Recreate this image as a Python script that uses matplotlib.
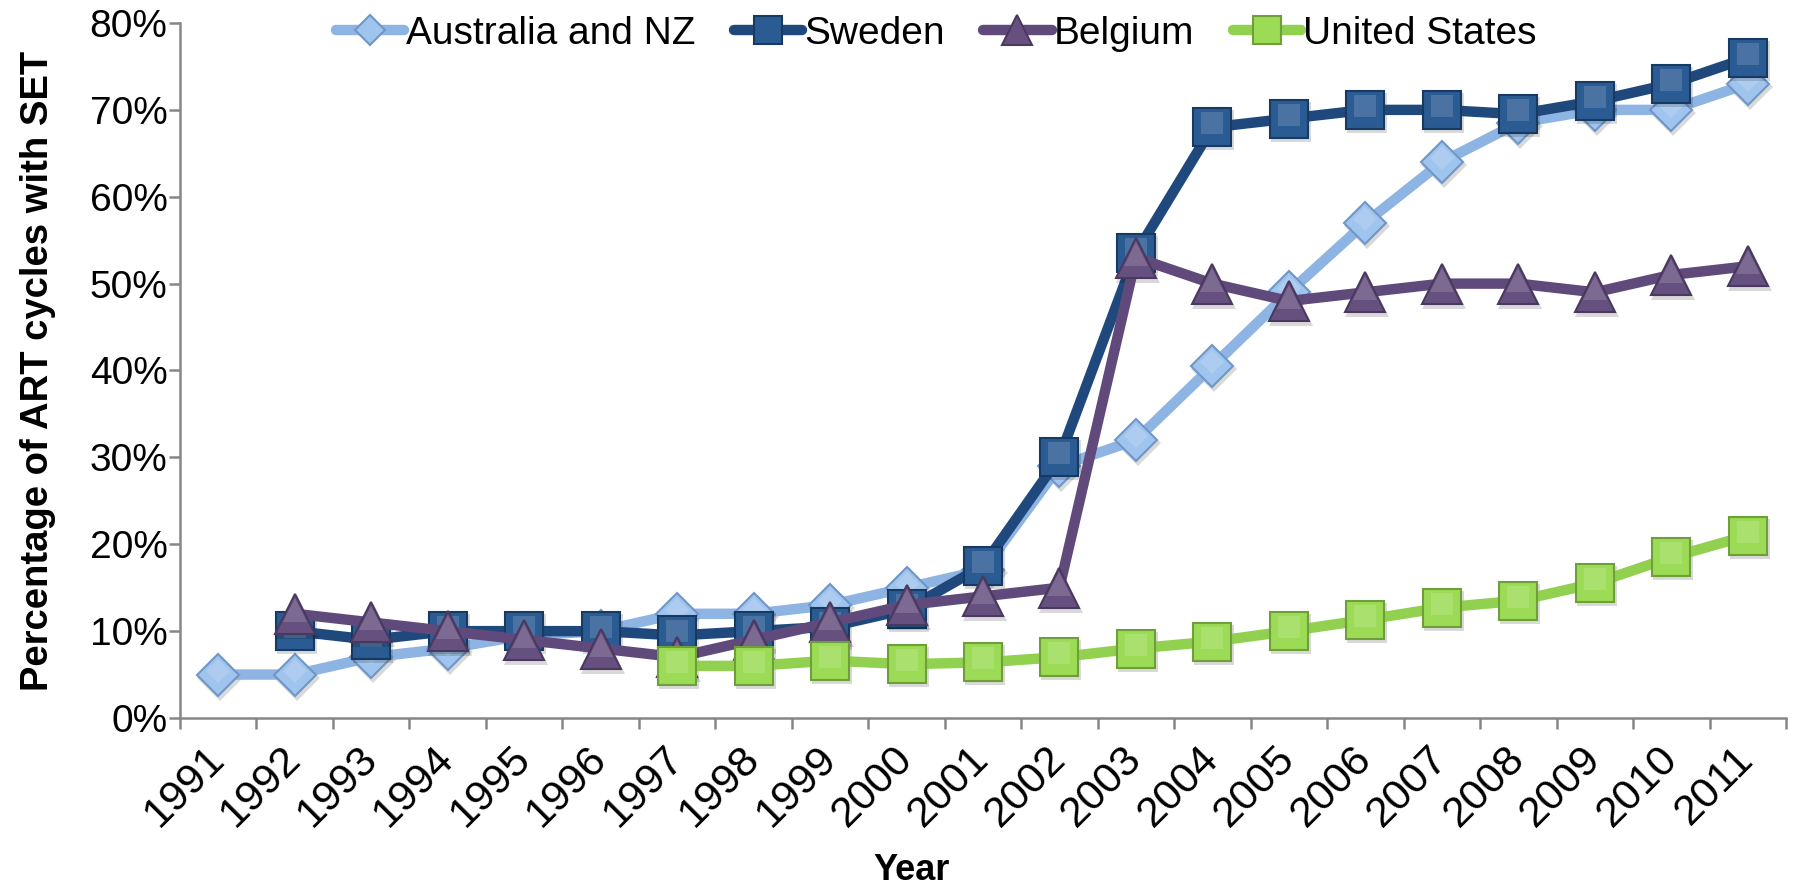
import numpy as np
import matplotlib
matplotlib.use("Agg")
import matplotlib.pyplot as plt
from matplotlib.ticker import FuncFormatter, FixedLocator
from matplotlib.transforms import offset_copy

plt.rcParams['font.family'] = ['Liberation Sans', 'DejaVu Sans']

years = [str(y) for y in range(1991, 2012)]
nan = np.nan

australia = [5, 5, 7, 8, 9.5, 10, 12, 12, 13, 15, 17, 29, 32, 40.5, 49, 57, 64, 68.5, 70, 70, 73]
sweden = [nan, 10, 9, 10, 10, 10, 9.5, 10, 10.5, 12.5, 17.5, 30, 53.5, 68, 69, 70, 70, 69.5, 71, 73, 76]
belgium = [nan, 12, 11, 10, 9, 8, 7, 9, 11, 13, 14, 15, 53, 50, 48, 49, 50, 50, 49, 51, 52]
usa = [nan] * 6 + [6, 6, 6.6, 6.2, 6.4, 7, 8, 8.8, 10, 11.3, 12.7, 13.5, 15.5, 18.5, 21]

# name, values, marker, line colour, fill, edge, marker size
series = [
    ("Australia and NZ", australia, 'D', "#8DB4E2", "#9FC4EE", "#6F96C6", 21),
    ("Sweden", sweden, 's', "#1F497D", "#2B5B93", "#173A63", 27),
    ("Belgium", belgium, '^', "#604A7B", "#66507F", "#4A395F", 29),
    ("United States", usa, 's', "#92D050", "#9CDB55", "#6E9F3A", 27),
]

fig = plt.figure(figsize=(17.93, 8.88), dpi=100)
ax = fig.add_axes([180 / 1793, 1 - 718 / 888, 1606 / 1793, 695 / 888])

x = np.arange(len(years))
shadow = offset_copy(ax.transData, fig=fig, x=2, y=-3, units='dots')
glint = offset_copy(ax.transData, fig=fig, x=0, y=4, units='dots')
for i, (name, vals, mk, lc, fc, ec, ms) in enumerate(series):
    z = 3 + i
    # soft drop shadow under the markers
    ax.plot(x, vals, ls='none', marker=mk, markersize=ms + 2, color='black',
            alpha=0.15, markeredgewidth=0, transform=shadow, zorder=z - 0.1,
            clip_on=False)
    ax.plot(x, vals, color=lc, lw=7.5, marker=mk, markersize=ms,
            markerfacecolor=fc, markeredgecolor=ec, markeredgewidth=1.5,
            solid_joinstyle='round', solid_capstyle='round',
            label=name, zorder=z, clip_on=False)
    # lighter top on each marker
    ax.plot(x, vals, ls='none', marker=mk, markersize=ms * 0.6, color='white',
            alpha=0.15, markeredgewidth=0, transform=glint, zorder=z + 0.1,
            clip_on=False)

ax.set_xlim(-0.5, len(years) - 0.5)
ax.set_ylim(0, 80)
ax.yaxis.set_major_locator(FixedLocator(np.arange(0, 81, 10)))
ax.yaxis.set_major_formatter(FuncFormatter(lambda v, p: f"{v:.0f}%"))

ax.set_xticks(x)
ax.set_xticklabels(years, rotation=45, ha='right', va='center',
                   rotation_mode='anchor')
ax.set_xticks(np.arange(-0.5, len(years)), minor=True)
ax.tick_params(axis='x', which='major', length=0, pad=25, labelsize=31)
ax.tick_params(axis='x', which='minor', length=8, width=1.8, color='#868686', direction='out')
ax.tick_params(axis='y', length=8, width=1.8, color='#868686', direction='out',
               labelsize=28, pad=1)

for s in ['top', 'right']:
    ax.spines[s].set_visible(False)
for s in ['left', 'bottom']:
    ax.spines[s].set_color('#868686')
    ax.spines[s].set_linewidth(1.8)

ax.set_ylabel("Percentage of ART cycles with SET", fontsize=27.5, fontweight='bold', labelpad=24)
fig.text(912 / 1793, 1 - 870 / 888, "Year", fontsize=26, fontweight='bold',
         ha='center', va='center')

ax.legend(loc='center', bbox_to_anchor=(936 / 1793, 1 - 34 / 888),
          bbox_transform=fig.transFigure, ncol=4, frameon=False,
          fontsize=28, handlelength=1.75, handletextpad=0.05, columnspacing=1.0,
          markerscale=0.75)

fig.savefig("out.png", dpi=100)
